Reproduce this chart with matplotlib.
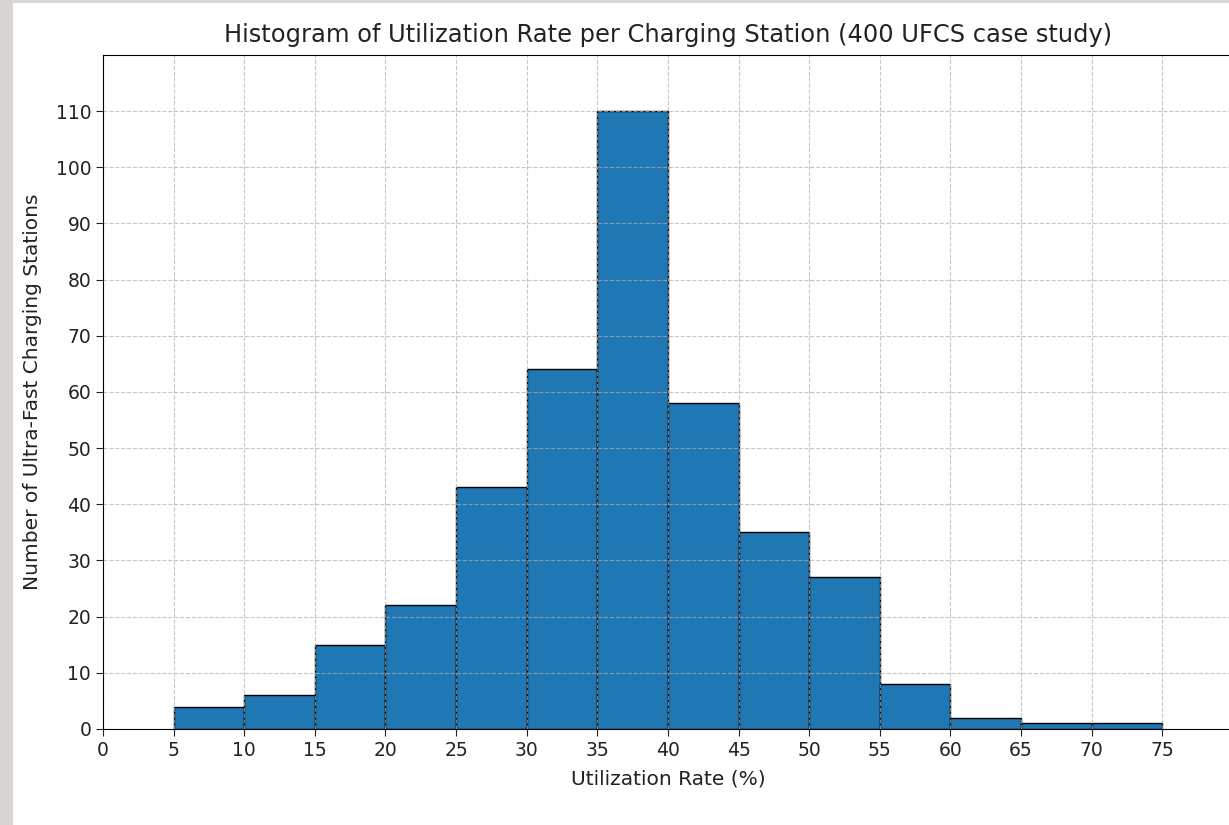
import numpy as np
import matplotlib.pyplot as plt
from matplotlib.patches import Rectangle

# Utilization rate bins (%) and number of stations per bin
bin_edges = [5, 10, 15, 20, 25, 30, 35, 40, 45, 50, 55, 60, 65, 70, 75]
counts = [4, 6, 15, 22, 43, 64, 110, 58, 35, 27, 8, 2, 1, 1]

x_ticks = list(range(0, 80, 5))
y_ticks = list(range(0, 120, 10))

fig = plt.figure(figsize=(12.29, 8.25), dpi=100)
ax = fig.add_axes([0.0838, 0.1164, 0.9194, 0.8170])

# grey frame strips on left and top
fig.patches.append(Rectangle((0, 0), 13 / 1229, 1, transform=fig.transFigure,
                             facecolor='#d9d6d1', edgecolor='none', zorder=-1))
fig.patches.append(Rectangle((0, 1 - 3 / 825), 1, 3 / 825, transform=fig.transFigure,
                             facecolor='#d9d6d1', edgecolor='none', zorder=-1))

widths = np.diff(bin_edges)
ax.bar(bin_edges[:-1], counts, width=widths, align='edge',
       color='#1f77b4', edgecolor='black', linewidth=1)

ax.set_xlim(0, 80)
ax.set_ylim(0, 120)
ax.set_xticks(x_ticks)
ax.set_yticks(y_ticks)
ax.tick_params(labelsize=13.5, length=5, colors='#222222')

ax.set_title("Histogram of Utilization Rate per Charging Station (400 UFCS case study)",
             fontsize=17.4, pad=9, color='#222222')
ax.set_xlabel("Utilization Rate (%)", fontsize=14.5, labelpad=7, color='#222222')
ax.set_ylabel("Number of Ultra-Fast Charging Stations", fontsize=14.5, labelpad=10,
              color='#222222')
ax.grid(True, linestyle='--', alpha=0.7)

plt.savefig("out.png", dpi=100)
